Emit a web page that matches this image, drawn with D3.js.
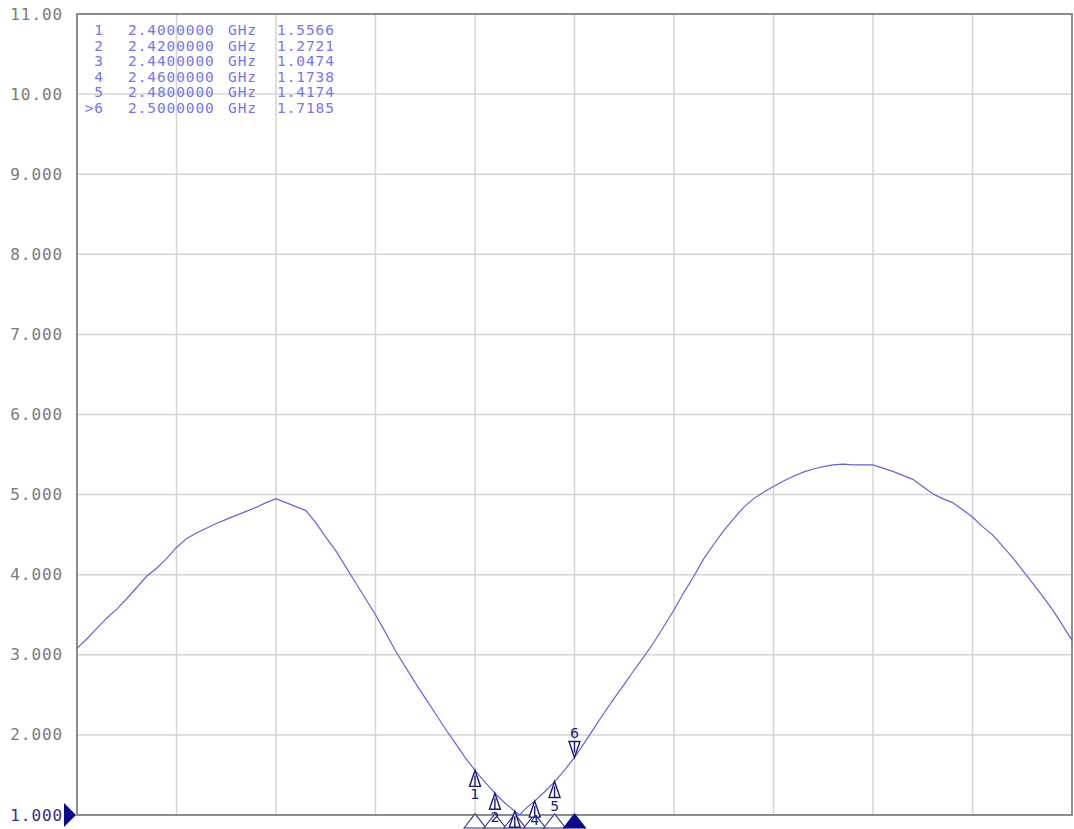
<!DOCTYPE html>
<html><head><meta charset="utf-8">
<script src="https://cdn.jsdelivr.net/npm/d3@7"></script>
<style>body{margin:0;background:#fff}svg{display:block}</style>
</head><body>
<script>
// ---- data ----
const freqs = [2.00,2.01,2.02,2.03,2.04,2.05,2.06,2.07,2.08,2.09,2.10,2.11,2.12,2.13,2.14,2.15,2.16,2.17,2.18,2.19,2.20,2.21,2.22,2.23,2.24,2.25,2.26,2.27,2.28,2.29,2.30,2.31,2.32,2.33,2.34,2.35,2.36,2.37,2.38,2.39,2.40,2.41,2.42,2.43,2.44,2.445,2.45,2.46,2.47,2.48,2.49,2.50,2.51,2.52,2.53,2.54,2.55,2.56,2.57,2.58,2.59,2.60,2.61,2.62,2.63,2.64,2.65,2.66,2.67,2.68,2.69,2.70,2.71,2.72,2.73,2.74,2.75,2.76,2.77,2.78,2.79,2.80,2.81,2.82,2.83,2.84,2.85,2.86,2.87,2.88,2.89,2.90,2.91,2.92,2.93,2.94,2.95,2.96,2.97,2.98,2.99,3.00];
const swr = [3.08,3.20,3.33,3.46,3.57,3.70,3.84,3.98,4.08,4.20,4.34,4.45,4.52,4.58,4.64,4.69,4.74,4.79,4.84,4.90,4.95,4.90,4.85,4.80,4.65,4.47,4.30,4.10,3.90,3.70,3.50,3.28,3.05,2.85,2.65,2.46,2.27,2.08,1.90,1.72,1.5566,1.41,1.2721,1.15,1.0474,1.00,1.07,1.1738,1.29,1.4174,1.56,1.7185,1.90,2.09,2.28,2.46,2.63,2.81,2.98,3.16,3.36,3.56,3.78,3.98,4.20,4.38,4.55,4.70,4.84,4.95,5.03,5.10,5.17,5.23,5.28,5.32,5.35,5.37,5.38,5.37,5.37,5.37,5.33,5.29,5.24,5.19,5.10,5.01,4.95,4.90,4.81,4.72,4.60,4.50,4.36,4.22,4.06,3.90,3.74,3.57,3.38,3.18];
const yTicks = [11,10,9,8,7,6,5,4,3,2,1];
const yTickLabels = ["11.00","10.00","9.000","8.000","7.000","6.000","5.000","4.000","3.000","2.000","1.000"];
const xTicks = [2.0,2.1,2.2,2.3,2.4,2.5,2.6,2.7,2.8,2.9,3.0];
const markerIds = ["1","2","3","4","5","6"];
const markerLabels = ["1","2","3","4","5",">6"];
const markerFreqs = [2.40,2.42,2.44,2.46,2.48,2.50];
const markerFreqText = ["2.4000000","2.4200000","2.4400000","2.4600000","2.4800000","2.5000000"];
const markerVals = [1.5566,1.2721,1.0474,1.1738,1.4174,1.7185];
const markerValText = ["1.5566","1.2721","1.0474","1.1738","1.4174","1.7185"];
const activeMarker = 5;

// ---- chart ----
const W=1074,H=829;
const L=77,R=1072,T=14,B=815;
const svg=d3.select("body").append("svg").attr("width",W).attr("height",H);
const x=d3.scaleLinear().domain([2.0,3.0]).range([L,R]);
const y=d3.scaleLinear().domain([1,11]).range([B,T]);

// grid
svg.append("g").selectAll("line").data(xTicks.slice(1,-1)).join("line")
  .attr("x1",d=>x(d)).attr("x2",d=>x(d)).attr("y1",T).attr("y2",B)
  .attr("stroke","#d4d4d4").attr("stroke-width",1.5);
svg.append("g").selectAll("line").data(yTicks.slice(1,-1)).join("line")
  .attr("x1",L).attr("x2",R).attr("y1",d=>y(d)).attr("y2",d=>y(d))
  .attr("stroke","#d4d4d4").attr("stroke-width",1.5);

// y labels
svg.append("g").selectAll("text").data(yTicks).join("text")
  .attr("x",63).attr("y",d=>y(d)+5.5).attr("text-anchor","end")
  .attr("font-family","DejaVu Sans Mono").attr("font-size",16).attr("letter-spacing",0.9)
  .attr("fill",(d,i)=>d===1?"#3b2c78":"#7a7a7a")
  .text((d,i)=>yTickLabels[i]);

// frame
svg.append("rect").attr("x",L).attr("y",T).attr("width",R-L).attr("height",B-T)
  .attr("fill","none").attr("stroke","#8c8c8c").attr("stroke-width",2);

// reference triangle
svg.append("path").attr("d",`M${L-13},${y(1)-12} L${L-1},${y(1)} L${L-13},${y(1)+12} Z`)
  .attr("fill","#0c0c8a");

// trace
const line=d3.line().x((d,i)=>x(freqs[i])).y(d=>y(d));
svg.append("path").datum(swr).attr("d",line).attr("fill","none")
  .attr("stroke","#6464d8").attr("stroke-width",1.2);

// marker table
const tbl=svg.append("g").attr("font-family","DejaVu Sans Mono").attr("font-size",14.5)
  .attr("fill","#7676ea").attr("letter-spacing",0.9);
markerIds.forEach((m,i)=>{
  const by=35+i*15.6;
  tbl.append("text").attr("x",104).attr("y",by).attr("text-anchor","end").text(markerLabels[i]);
  tbl.append("text").attr("x",128).attr("y",by).text(markerFreqText[i]);
  tbl.append("text").attr("x",228).attr("y",by).text("GHz");
  tbl.append("text").attr("x",277).attr("y",by).text(markerValText[i]);
});

// bottom triangles
const bt=svg.append("g");
markerFreqs.forEach((f,i)=>{
  const cx=x(f);
  bt.append("path").attr("d",`M${cx-11},${828} L${cx},${814} L${cx+11},${828} Z`)
    .attr("fill",i===activeMarker?"#0c0c8a":"#fff")
    .attr("stroke",i===activeMarker?"#0c0c8a":"#2e2e78").attr("stroke-width",1.1);
});

// trace markers
const mk=svg.append("g");
markerFreqs.forEach((f,i)=>{
  const cx=x(f), cy=y(markerVals[i]);
  if(i===activeMarker){
    mk.append("path").attr("d",`M${cx},${cy} L${cx-5.5},${cy-16} L${cx+5.5},${cy-16} Z M${cx},${cy-5} L${cx},${cy-16}`)
      .attr("fill","#fff").attr("stroke","#1a1a80").attr("stroke-width",1.4);
    mk.append("text").attr("x",cx).attr("y",cy-19).attr("text-anchor","middle")
      .attr("font-family","DejaVu Sans").attr("font-size",14).attr("fill","#1a1a80").text(markerIds[i]);
  } else {
    mk.append("path").attr("d",`M${cx},${cy} L${cx-5.5},${cy+16} L${cx+5.5},${cy+16} Z M${cx},${cy+5} L${cx},${cy+16}`)
      .attr("fill","#fff").attr("stroke","#1a1a80").attr("stroke-width",1.4);
    if(cy+28<=831){
      mk.append("text").attr("x",cx).attr("y",Math.min(cy+29,825)).attr("text-anchor","middle")
        .attr("font-family","DejaVu Sans").attr("font-size",14).attr("fill","#1a1a80").text(markerIds[i]);
    }
  }
});
</script>
</body></html>
